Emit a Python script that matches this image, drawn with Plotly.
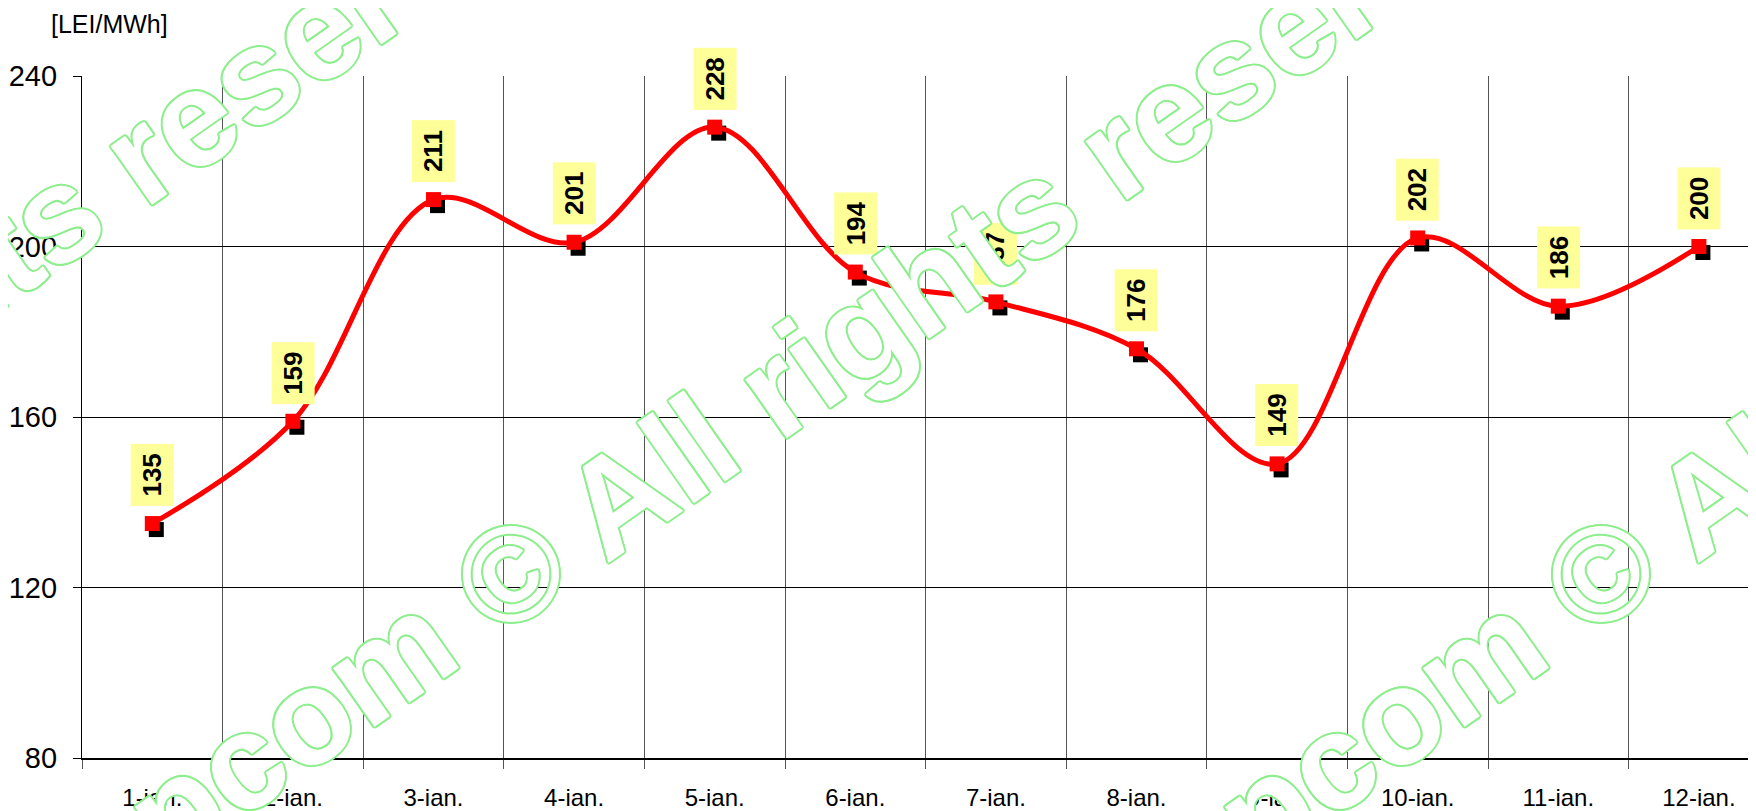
import plotly.graph_objects as go

# date si valori (LEI/MWh)
zile = ['1-ian.', '2-ian.', '3-ian.', '4-ian.', '5-ian.', '6-ian.',
        '7-ian.', '8-ian.', '9-ian.', '10-ian.', '11-ian.', '12-ian.']
pret = [135, 159, 211, 201, 228, 194, 187, 176, 149, 202, 186, 200]
y_ticks = [80, 120, 160, 200, 240]
unitate = '[LEI/MWh]'
watermark = 'opcom © All rights reserved'

# pagina are margine de 8px in jurul graficului
OFF = 8
W, H = 1756 - OFF, 811 - OFF
L, R, T, B = 82 - OFF, 0, 76 - OFF, 811 - 758
pw, ph = W - L - R, H - T - B
cat_px = 140.6  # latime categorie in pixeli

x = list(range(len(zile)))
limite = [i - 0.5 for i in range(len(zile) + 1)]
x_max = -0.5 + pw / cat_px


def px2paper(wx, wy):
    # coordonate fereastra -> coordonate paper
    return (wx - OFF - L) / pw, (T + ph - (wy - OFF)) / ph


# umbra neagra a markerelor, decalata cu cativa pixeli
dx = 4 / cat_px
dy = 6 * (y_ticks[-1] - y_ticks[0]) / ph

fig = go.Figure()

fig.add_trace(go.Scatter(
    x=[v + dx for v in x], y=[p - dy for p in pret],
    mode='markers',
    marker=dict(symbol='square', size=15, color='black'),
    hoverinfo='skip', showlegend=False
))

fig.add_trace(go.Scatter(
    x=x, y=pret,
    mode='lines+markers',
    line=dict(color='#FF0000', width=5, shape='spline', smoothing=1.0),
    marker=dict(symbol='square', size=15, color='#FF0000'),
    showlegend=False
))

# etichete galbene cu valorile
for xi, p in zip(x, pret):
    fig.add_annotation(
        x=xi, y=p, text='<b>%d</b>' % p, showarrow=False,
        textangle=-90, yanchor='bottom', xanchor='center', yshift=17,
        bgcolor='#FFFF99', borderpad=1, width=59, height=40,
        font=dict(family='Liberation Sans, Arial', size=26, color='black')
    )

# watermark (contur verde)
contur = '#8EEE8E'
umbra = ', '.join('%spx %spx 0 %s' % (a, b, contur) for a, b in
                  [(2, 0), (-2, 0), (0, 2), (0, -2), (1.5, 1.5),
                   (-1.5, 1.5), (1.5, -1.5), (-1.5, -1.5)])
for cx, cy in [(-160, 366), (815, 361), (1905, 361)]:
    wx, wy = px2paper(cx, cy)
    fig.add_annotation(
        xref='paper', yref='paper', x=wx, y=wy,
        text='<b>%s</b>' % watermark, showarrow=False, textangle=-35,
        xanchor='center', yanchor='middle',
        font=dict(family='Liberation Sans, Arial', size=136, color='white',
                  shadow=umbra)
    )

tx, ty = px2paper(49, 24)
fig.add_annotation(
    xref='paper', yref='paper', x=tx, y=ty,
    text=unitate, showarrow=False, xanchor='left', yanchor='middle',
    font=dict(family='Liberation Sans, Arial', size=25, color='black')
)

fig.update_layout(
    width=W, height=H,
    margin=dict(l=L, r=R, t=T, b=B),
    plot_bgcolor='white', paper_bgcolor='white',
    font=dict(family='Liberation Sans, Arial', color='black'),
    xaxis=dict(
        range=[-0.5, x_max], tickmode='array', tickvals=x, ticktext=zile,
        showgrid=False, zeroline=False,
        ticks='outside', ticklen=17, tickcolor='rgba(0,0,0,0)',
        tickfont=dict(size=24),
        showline=True, linecolor='black', linewidth=2,
        minor=dict(tickvals=limite, showgrid=True, gridcolor='#555555',
                   gridwidth=1, ticks='outside', ticklen=9,
                   tickcolor='#555555'),
    ),
    yaxis=dict(
        range=[y_ticks[0], y_ticks[-1]], tickmode='array', tickvals=y_ticks,
        showgrid=True, gridcolor='black', gridwidth=1.2, zeroline=False,
        ticks='outside', ticklen=8, tickcolor='black',
        tickfont=dict(size=29), ticklabelstandoff=10,
        showline=True, linecolor='black', linewidth=1.2,
    ),
)

fig.write_html('out.html')
